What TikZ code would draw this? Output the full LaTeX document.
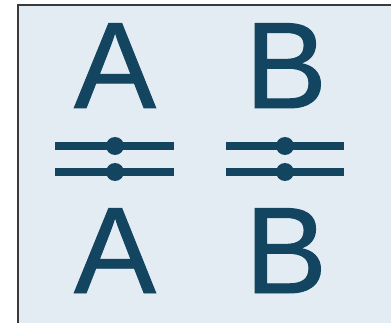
\documentclass[tikz,border=0pt]{standalone}
\usepackage{fontspec}
\setmainfont{Liberation Sans}
\newfontfamily\letterfont[FakeBold=0.8]{Liberation Sans}
\definecolor{ink}{HTML}{134561}
\definecolor{panel}{HTML}{E3ECF2}
\definecolor{framec}{HTML}{3A3A3A}
\tikzset{
  letter/.style={anchor=base, inner sep=0pt, text=ink, font=\letterfont\fontsize{123}{123}\selectfont},
  bar/.style={draw=ink, line width=8pt, line cap=butt},
  knob/.style={fill=ink},
}
\begin{document}
\begin{tikzpicture}[x=1pt,y=-1pt]
\useasboundingbox (0,0) rectangle (391,323);
\fill[white] (0,0) rectangle (391,323);
\fill[panel] (18,5) rectangle (391,323);
\draw[framec, line width=2.2pt] (18,323) -- (18,5) -- (391,5);
% letters
\node[letter] (a1) at (115,108) {A};
\node[letter] (b1) at (286,108) {B};
\node[letter] (a2) at (115,293) {A};
\node[letter] (b2) at (286,293) {B};
% left pair
\coordinate (l1s) at (55,146); \coordinate (l1e) at (174,146);
\coordinate (l2s) at (55,172); \coordinate (l2e) at (174,172);
\draw[bar] (l1s) -- (l1e);
\draw[bar] (l2s) -- (l2e);
\fill[knob] (115,146) circle (9);
\fill[knob] (115,172) circle (9);
% right pair
\coordinate (r1s) at (226,146); \coordinate (r1e) at (344,146);
\coordinate (r2s) at (226,172); \coordinate (r2e) at (344,172);
\draw[bar] (r1s) -- (r1e);
\draw[bar] (r2s) -- (r2e);
\fill[knob] (285,146) circle (9);
\fill[knob] (285,172) circle (9);
\end{tikzpicture}
\end{document}
